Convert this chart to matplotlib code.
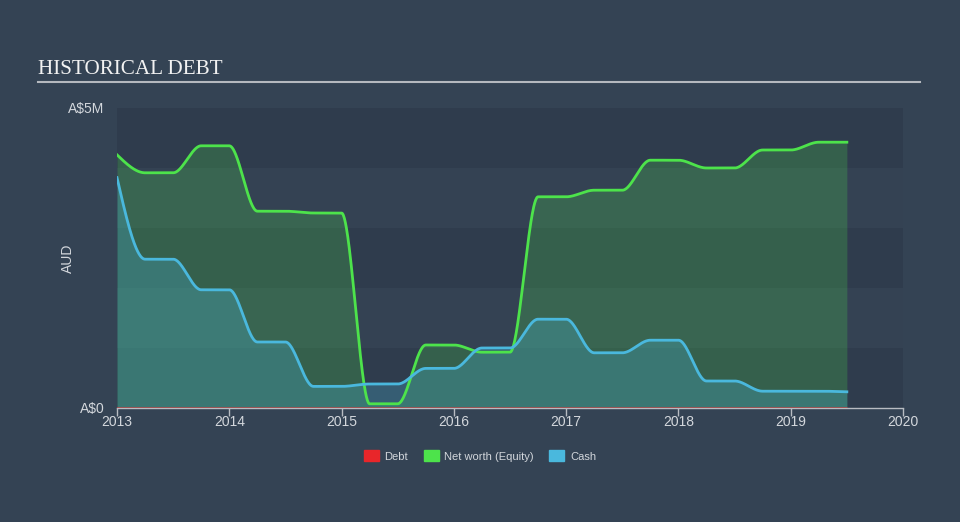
import matplotlib.pyplot as plt
from matplotlib.patches import Patch
import numpy as np

# quarterly sample dates (decimal years) and values in A$ millions
dates = [2013.0, 2013.25, 2013.5, 2013.75, 2014.0, 2014.25, 2014.5, 2014.75,
         2015.0, 2015.25, 2015.5, 2015.75, 2016.0, 2016.25, 2016.5, 2016.75,
         2017.0, 2017.25, 2017.5, 2017.75, 2018.0, 2018.25, 2018.5, 2018.75,
         2019.0, 2019.25, 2019.5]
equity = [4.22, 3.92, 3.92, 4.37, 4.37, 3.28, 3.28, 3.25,
          3.25, 0.07, 0.07, 1.05, 1.05, 0.93, 0.93, 3.52,
          3.52, 3.63, 3.63, 4.13, 4.13, 4.00, 4.00, 4.30,
          4.30, 4.43, 4.43]
cash = [3.84, 2.48, 2.48, 1.97, 1.97, 1.10, 1.10, 0.36,
        0.36, 0.40, 0.40, 0.66, 0.66, 1.00, 1.00, 1.48,
        1.48, 0.92, 0.92, 1.13, 1.13, 0.45, 0.45, 0.28,
        0.28, 0.28, 0.27]
debt = [0.0] * len(dates)

year_ticks = [2013, 2014, 2015, 2016, 2017, 2018, 2019, 2020]

BG = '#344354'
TXT = '#d3d7dc'
C_DEBT = '#e8262a'
C_EQ = '#4de34b'
C_CASH = '#4ab8dd'


def monotone(x, y, xs):
    '''
    Monotone cubic interpolation (like d3 curveMonotoneX)
    '''
    x = np.asarray(x, float)
    y = np.asarray(y, float)
    h = np.diff(x)
    d = np.diff(y) / h
    n = len(x)
    m = np.zeros(n)
    for k in range(1, n - 1):
        if d[k - 1] * d[k] > 0:
            w1 = 2 * h[k] + h[k - 1]
            w2 = h[k] + 2 * h[k - 1]
            m[k] = (w1 + w2) / (w1 / d[k - 1] + w2 / d[k])
    m[0] = (3 * d[0] - m[1]) / 2
    m[-1] = (3 * d[-1] - m[-2]) / 2
    i = np.clip(np.searchsorted(x, xs) - 1, 0, n - 2)
    t = (xs - x[i]) / h[i]
    h00 = 2 * t**3 - 3 * t**2 + 1
    h10 = t**3 - 2 * t**2 + t
    h01 = -2 * t**3 + 3 * t**2
    h11 = t**3 - t**2
    return h00 * y[i] + h10 * h[i] * m[i] + h01 * y[i + 1] + h11 * h[i] * m[i + 1]


xs = np.linspace(dates[0], dates[-1], 1500)
eq_s = monotone(dates, equity, xs)
cash_s = monotone(dates, cash, xs)
debt_s = monotone(dates, debt, xs)

fig = plt.figure(figsize=(9.6, 5.22), dpi=100, facecolor=BG)
ax = fig.add_axes([117 / 960, 1 - 408 / 522, 786 / 960, 300 / 522])
ax.set_facecolor('#2f3c4d')

# alternating bands
for lo in [1, 3]:
    ax.axhspan(lo, lo + 1, color='#344253', lw=0, zorder=0)

ax.fill_between(xs, 0, eq_s, color=C_EQ, alpha=0.22, lw=0, zorder=1)
ax.plot(xs, eq_s, color=C_EQ, lw=2, zorder=3)
ax.fill_between(xs, 0, cash_s, color=C_CASH, alpha=0.27, lw=0, zorder=2)
ax.plot(xs, cash_s, color=C_CASH, lw=2, zorder=4)
ax.plot(xs, debt_s, color=C_DEBT, lw=1, alpha=0.7, zorder=5)

ax.set_xlim(2013, 2020)
ax.set_ylim(0, 5)

for s in ['top', 'right', 'left']:
    ax.spines[s].set_visible(False)
ax.spines['bottom'].set_color('#b8bcc2')
ax.spines['bottom'].set_linewidth(1)

ax.set_xticks(year_ticks)
ax.set_xticklabels([str(y) for y in year_ticks])
ax.tick_params(axis='x', colors='#b8bcc2', labelcolor=TXT, labelsize=10,
               length=6, width=1, pad=-1)
ax.set_yticks([0, 5])
ax.set_yticklabels(['A$0', 'A$5M'])
ax.tick_params(axis='y', length=0, labelcolor=TXT, labelsize=10, pad=9)
for lab in ax.get_xticklabels() + ax.get_yticklabels():
    lab.set_fontfamily('Liberation Sans')
ax.set_ylabel('AUD', color=TXT, fontsize=10, fontfamily='Liberation Sans')
ax.yaxis.set_label_coords(-42 / 786, 0.5)

# title and rule
fig.text(38 / 960, 1 - 69 / 522, 'HISTORICAL DEBT', color='#f2f2f2',
         fontsize=15.2, fontfamily='Liberation Serif', va='center', ha='left')
fig.add_artist(plt.Line2D([38 / 960, 920 / 960], [1 - 82 / 522, 1 - 82 / 522],
                          color='#b5b9bf', lw=1.5))

handles = [Patch(color=C_DEBT, label='Debt'),
           Patch(color=C_EQ, label='Net worth (Equity)'),
           Patch(color=C_CASH, label='Cash')]
leg = fig.legend(handles=handles, loc='center', bbox_to_anchor=(0.5, 1 - 456 / 522),
                 ncol=3, frameon=False, handlelength=1.35,
                 handleheight=1.1, handletextpad=0.5, columnspacing=1.4,
                 prop={'family': 'Liberation Sans', 'size': 8})
for t in leg.get_texts():
    t.set_color(TXT)

fig.savefig('out.png', dpi=100, facecolor=BG)
